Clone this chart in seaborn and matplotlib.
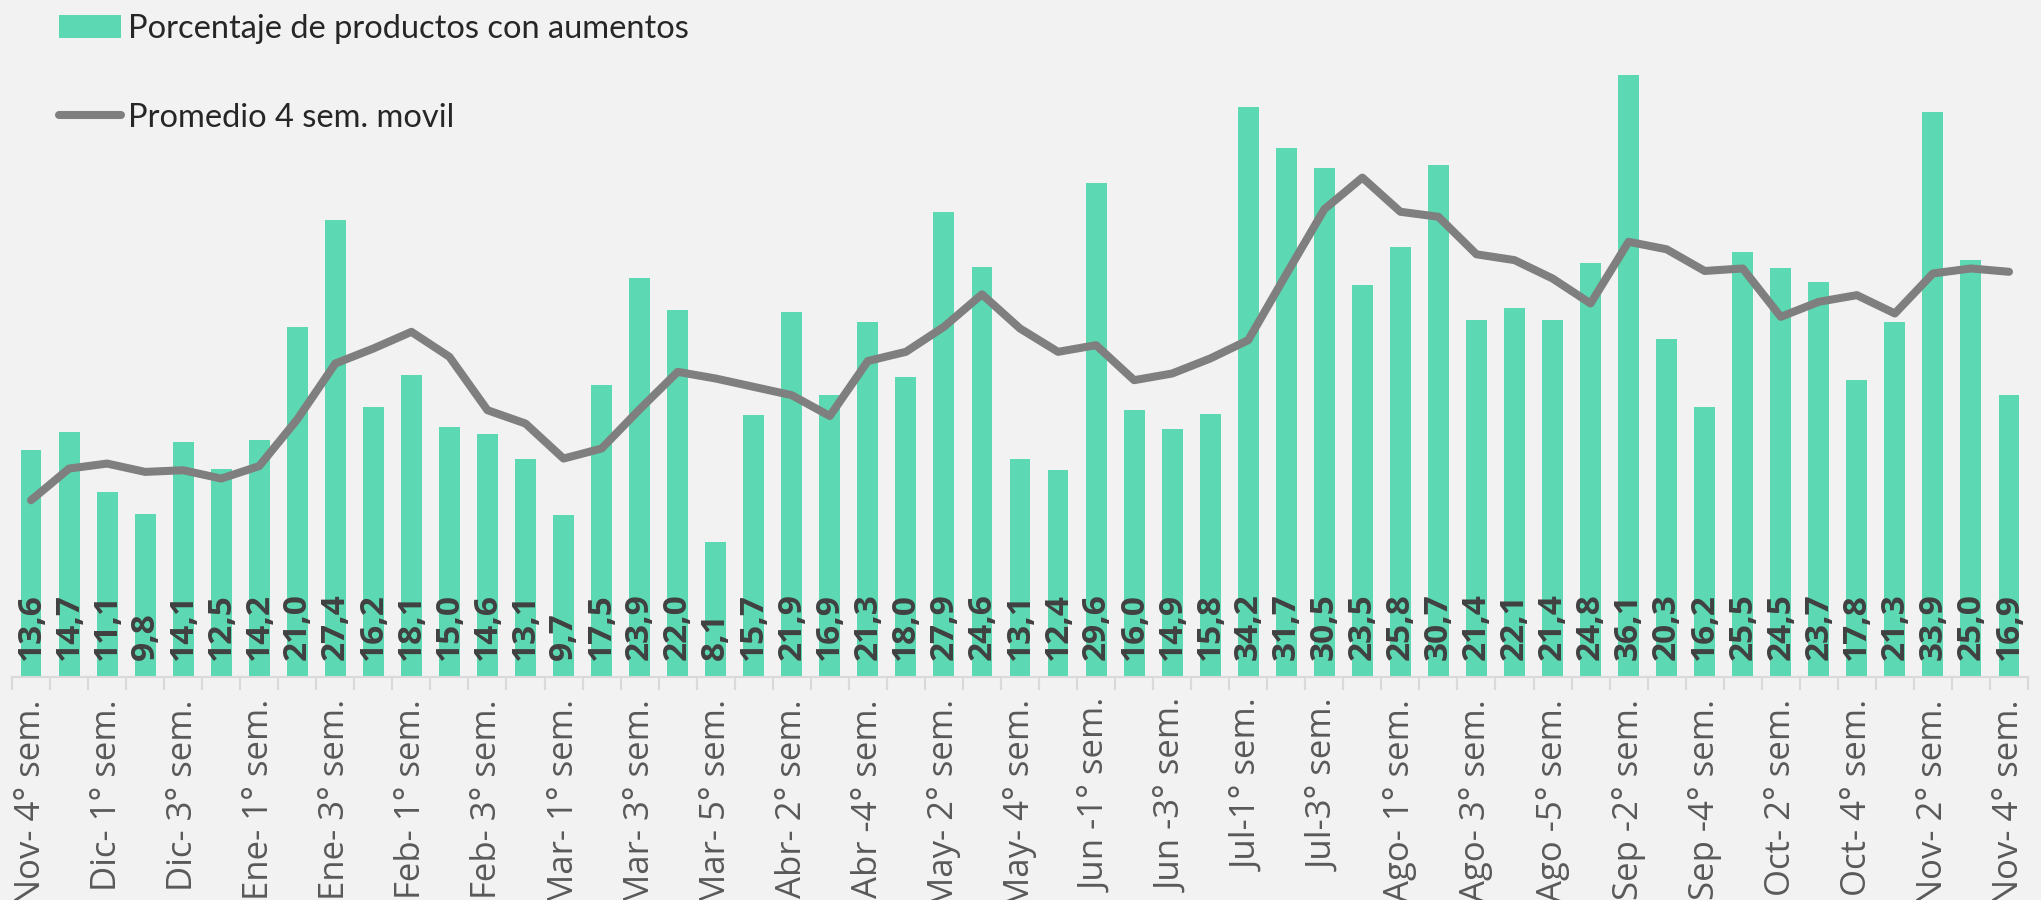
import matplotlib
matplotlib.use("Agg")
import matplotlib.pyplot as plt
import seaborn as sns
import numpy as np

# ---- data ----
values = [13.6, 14.7, 11.1, 9.8, 14.1, 12.5, 14.2, 21.0, 27.4, 16.2, 18.1, 15.0, 14.6,
          13.1, 9.7, 17.5, 23.9, 22.0, 8.1, 15.7, 21.9, 16.9, 21.3, 18.0, 27.9, 24.6,
          13.1, 12.4, 29.6, 16.0, 14.9, 15.8, 34.2, 31.7, 30.5, 23.5, 25.8, 30.7, 21.4,
          22.1, 21.4, 24.8, 36.1, 20.3, 16.2, 25.5, 24.5, 23.7, 17.8, 21.3, 33.9, 25.0, 16.9]

moving_avg = [10.6, 12.5, 12.8, 12.3, 12.4, 11.9, 12.65, 15.45, 18.8, 19.7, 20.7, 19.2,
              16.0, 15.2, 13.1, 13.7, 16.05, 18.3, 17.9, 17.4, 16.9, 15.65, 18.95, 19.5,
              21.0, 22.95, 20.9, 19.5, 19.9, 17.8, 18.2, 19.1, 20.2, 24.15, 28.05, 29.95,
              27.9, 27.6, 25.35, 25.0, 23.9, 22.4, 26.1, 25.65, 24.35, 24.5, 21.6, 22.5,
              22.9, 21.8, 24.2, 24.5, 24.3]

tick_labels = ["Nov- 4° sem.", "Dic- 1° sem.", "Dic- 3° sem.", "Ene- 1° sem.", "Ene- 3° sem.",
               "Feb- 1° sem.", "Feb- 3° sem.", "Mar- 1° sem.", "Mar- 3° sem.", "Mar- 5° sem.",
               "Abr- 2° sem.", "Abr -4° sem.", "May- 2° sem.", "May- 4° sem.", "Jun -1° sem.",
               "Jun -3° sem.", "Jul-1° sem.", "Jul-3° sem.", "Ago- 1° sem.", "Ago- 3° sem.",
               "Ago -5° sem.", "Sep -2° sem.", "Sep -4° sem.", "Oct- 2° sem.", "Oct- 4° sem.",
               "Nov- 2° sem.", "Nov- 4° sem."]

bar_label = "Porcentaje de productos con aumentos"
line_label = "Promedio 4 sem. movil"

BG = "#f2f2f2"
BAR = "#5cd9b3"
LINE = "#7f7f7f"

sns.set_theme(style="white")
plt.rcParams["font.family"] = ["Open Sans", "DejaVu Sans"]

W, H = 2041, 900
fig = plt.figure(figsize=(W / 100, H / 100), dpi=100, facecolor=BG)
ax = fig.add_axes([12 / W, 223 / H, 2016 / W, 677 / H])
ax.set_facecolor(BG)

x = list(range(len(values)))
sns.barplot(x=x, y=values, color=BAR, saturation=1, width=0.55, linewidth=0,
            ax=ax, label=bar_label)
sns.lineplot(x=x, y=moving_avg, color=LINE, linewidth=5.8, ax=ax, label=line_label,
             solid_capstyle="round", solid_joinstyle="round")

ax.set_xlim(-0.5, len(values) - 0.5)
ax.set_ylim(0, 40.6)
ax.set_yticks([])
ax.set_xlabel("")
ax.set_ylabel("")

ax.set_xticks(range(0, len(values), 2))
ax.set_xticklabels(tick_labels, rotation=90, fontsize=25, color="#595959",
                   family=["Open Sans", "DejaVu Sans"])
ax.set_xticks(np.arange(-0.5, len(values), 1), minor=True)
ax.tick_params(axis="x", which="major", length=0, pad=16, bottom=True)
ax.tick_params(axis="x", which="minor", length=9.5, width=1.5, color="#d9d9d9",
               bottom=True, direction="out")

for s in ["left", "top", "right"]:
    ax.spines[s].set_visible(False)
ax.spines["bottom"].set_color("#d9d9d9")
ax.spines["bottom"].set_linewidth(1.5)

for i, v in enumerate(values):
    ax.annotate(f"{v:.1f}".replace(".", ","), xy=(i, 0), xytext=(0, 17),
                textcoords="offset pixels", rotation=90, ha="center", va="bottom",
                fontsize=24, fontweight="bold", color="#404040",
                family=["Open Sans", "DejaVu Sans"])

handles, labels = ax.get_legend_handles_labels()
order = [labels.index(bar_label), labels.index(line_label)]
ax.legend([handles[k] for k in order], [labels[k] for k in order],
          loc="upper left", bbox_to_anchor=(59 / W, 1 - 14 / H),
          bbox_transform=fig.transFigure, frameon=False,
          prop={"family": ["Lato", "DejaVu Sans"], "size": 23.5},
          handlelength=1.9, handletextpad=0.22, labelspacing=1.8,
          borderpad=0, borderaxespad=0)

fig.savefig("out.png", dpi=100, facecolor=BG)
